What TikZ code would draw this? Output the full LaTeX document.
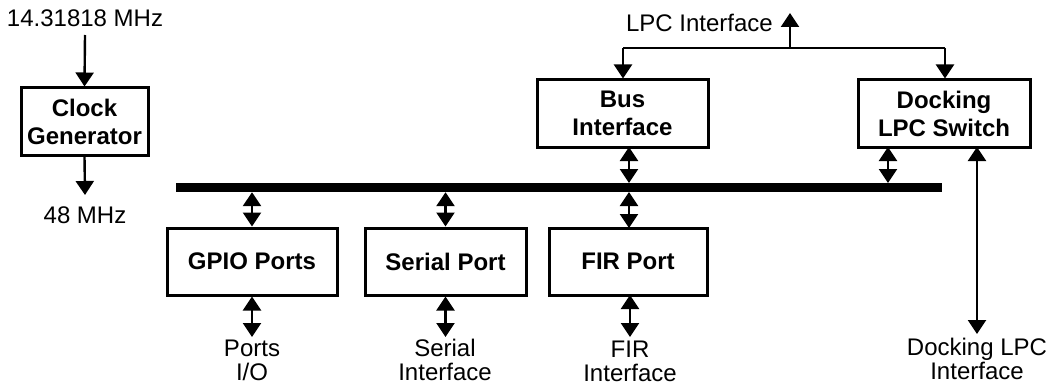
\documentclass[tikz,border=0pt]{standalone}
\usepackage{fontspec}
\setmainfont{Liberation Sans}
\usetikzlibrary{arrows.meta,calc}
\begin{document}
\begin{tikzpicture}[x=1pt,y=-1pt,
  box/.style={draw,line width=3pt,minimum height=67pt,inner sep=0pt,align=center,
    font=\fontsize{24}{28}\selectfont\bfseries},
  lbl/.style={inner sep=0pt,align=center,font=\fontsize{24}{24}\selectfont},
  tip/.style={line width=2.4pt,-{Triangle[width=18pt,length=14pt]}},
  dbl/.style={line width=2.4pt,{Triangle[width=18pt,length=14pt]}-{Triangle[width=18pt,length=14pt]}}]
\useasboundingbox (0,0) rectangle (1048,385);
% boxes
\node[box,minimum width=127pt] (clk) at (84.5,121.5) {Clock\\Generator};
\node[box,minimum width=171pt] (busif) at (622.5,113.5) {Bus\\Interface};
\node[box,minimum width=172pt] (dock) at (944,113.5) {Docking\\LPC Switch};
\node[box,minimum width=170pt] (gpio) at (252,261.5) {GPIO Ports};
\node[box,minimum width=161pt] (ser) at (445.5,261.5) {Serial Port};
\node[box,minimum width=158pt] (fir) at (628,261.5) {FIR Port};
% bus
\node[fill=black,minimum width=766pt,minimum height=9pt,inner sep=0pt] (bus) at (559,187.5) {};
% labels
\node[lbl] (mhz14) at (85,18) {14.31818 MHz};
\node[lbl] (mhz48) at (85,215) {48 MHz};
\node[lbl,anchor=east] (lpc) at (773,23) {LPC Interface};
\node[lbl] (ports) at (252,360) {Ports\\I/O};
\node[lbl] (serif) at (445,360) {Serial\\Interface};
\node[lbl] (firif) at (630,361) {FIR\\Interface};
\node[lbl] (dockif) at (977,359) {Docking LPC\\Interface};
% coordinates
\coordinate (lpcup) at (790,13);
\coordinate (lpcj) at (790,48);
\coordinate (lpcl) at (623,48);
\coordinate (lpcr) at (945,48);
% clock arrows
\draw[tip] (85,35) -- (clk.north);
\draw[tip] (clk.south) -- (85,195);
% LPC interface
\draw[tip] (lpcj) -- (lpcup);
\draw[line width=2.4pt] (lpcl) -- (lpcr);
\draw[tip] (lpcl) -- (lpcl |- busif.north);
\draw[tip] (lpcr) -- (lpcr |- dock.north);
% bus connections
\draw[dbl] (629,147) -- (629,183);
\draw[dbl] (888,147) -- (888,183);
\draw[dbl] (gpio.north |- bus.south) -- (gpio.north);
\draw[dbl] (ser.north |- bus.south) -- (ser.north);
\draw[dbl] (629,192) -- (629,228);
% outputs
\draw[dbl] (gpio.south) -- (252,337);
\draw[dbl] (ser.south) -- (445.5,337);
\draw[dbl] (630,295) -- (630,337);
\draw[dbl] (977,147) -- (977,334);
\end{tikzpicture}
\end{document}
